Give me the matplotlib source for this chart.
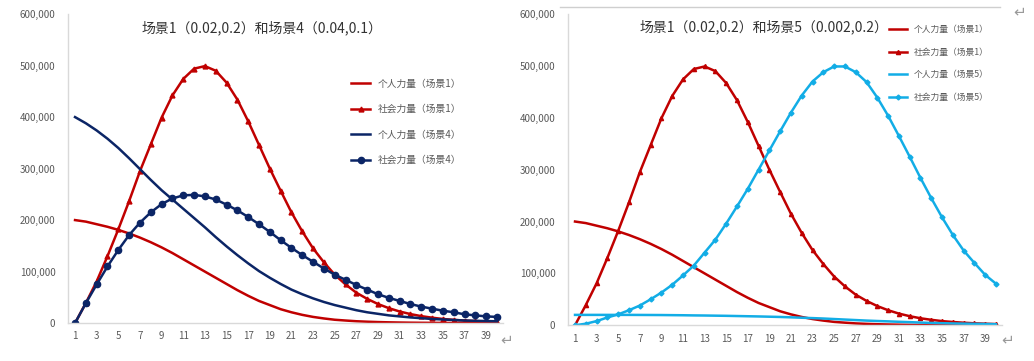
import numpy as np
import matplotlib

matplotlib.use("Agg")
import matplotlib.pyplot as plt
from matplotlib.ticker import FuncFormatter

plt.rcParams["font.family"] = ["Noto Sans CJK SC", "DejaVu Sans"]

# data, values in thousands
steps = list(range(1, 41))
s1_ind = [200, 197, 192, 187, 181, 174, 166, 157, 147, 136, 124, 112, 100, 88,
          76, 64, 53, 43, 35, 27, 21, 16, 12, 9, 6.5, 5, 3.6, 2.7, 2, 1.5, 1.1,
          0.8, 0.6, 0.45, 0.35, 0.25, 0.2, 0.15, 0.1, 0.08]
s1_soc = [0, 39, 81, 130, 182, 237, 295, 347, 399, 442, 474, 494, 499, 490,
          467, 434, 392, 346, 300, 257, 215, 178, 145, 118, 94, 75, 59, 47, 37,
          29, 22.5, 17.5, 13.5, 10.5, 8, 6.3, 4.9, 3.8, 3, 2.3]
s4_ind = [400, 388, 374, 358, 340, 320, 299, 278, 258, 240, 222, 204, 186, 167,
          149, 132, 116, 101, 88, 76, 65, 56, 48, 41, 35, 30, 25, 21, 18, 15,
          13, 11, 9.5, 8, 7, 6, 5, 4.5, 4, 3.5]
s4_soc = [0, 38.7, 75, 110, 142, 171, 195, 215, 231, 242, 248, 249, 246, 240,
          230, 219, 206, 192, 177, 161, 146, 132, 119, 106, 94, 84, 74, 65, 56,
          49, 43, 37, 32, 28, 24, 21, 17, 15, 13, 12]
s5_ind = [20, 20, 20, 20, 20, 20, 19.9, 19.8, 19.7, 19.5, 19.3, 19, 18.8, 18.5,
          18.2, 17.8, 17.4, 17, 16.5, 16, 15.3, 14.5, 13.8, 13, 12, 11, 10, 9,
          8.2, 7.5, 6.7, 6, 5.2, 4.5, 4, 3.5, 3.1, 2.8, 2.4, 2]
s5_soc = [0, 3, 8, 15, 21, 29, 38, 50, 63, 78, 96, 115, 140, 165, 196, 229,
          263, 300, 337, 374, 410, 443, 470, 488, 499, 499, 488, 469, 439, 404,
          365, 325, 284, 245, 208, 174, 144, 120, 97, 80]

titles = ["场景1（0.02,0.2）和场景4（0.04,0.1）",
          "场景1（0.02,0.2）和场景5（0.002,0.2）"]
labels_l = ["个人力量（场景1）", "社会力量（场景1）", "个人力量（场景4）", "社会力量（场景4）"]
labels_r = ["个人力量（场景1）", "社会力量（场景1）", "个人力量（场景5）", "社会力量（场景5）"]

RED, NAVY, CYAN = "#C00000", "#0B2566", "#12ADE6"
GRID = "#D9D9D9"
TXT = "#595959"

x = np.array(steps)
k = 1000.0

fig = plt.figure(figsize=(10.34, 3.61), dpi=100)
axl = fig.add_axes([68 / 1034, 0.105, (503 - 68) / 1034, 0.856])
axr = fig.add_axes([568 / 1034, 0.099, (1002 - 568) / 1034, 0.862])


def style(ax):
    ax.set_xlim(0.35, 40.55)
    ax.set_ylim(0, 600000)
    ax.set_yticks(np.arange(0, 600001, 100000))
    ax.set_xticks(steps[::2])
    ax.yaxis.set_major_formatter(FuncFormatter(lambda v, p: f"{int(v):,}"))
    for s in ("top", "right"):
        ax.spines[s].set_visible(False)
    for s in ("left", "bottom"):
        ax.spines[s].set_color(GRID)
        ax.spines[s].set_linewidth(1.0)
    ax.tick_params(length=0, labelsize=7, colors=TXT, pad=9)
    ax.tick_params(axis="x", pad=6)


lw = 1.8
axl.plot(x, np.array(s1_ind) * k, color=RED, lw=lw, label=labels_l[0])
axl.plot(x, np.array(s1_soc) * k, color=RED, lw=lw, marker="^", ms=3.5,
         label=labels_l[1])
axl.plot(x, np.array(s4_ind) * k, color=NAVY, lw=lw, label=labels_l[2])
axl.plot(x, np.array(s4_soc) * k, color=NAVY, lw=lw, marker="o", ms=4.5,
         label=labels_l[3])
style(axl)
axl.text(0.445, 0.955, titles[0], transform=axl.transAxes, ha="center",
         va="center", fontsize=10, color="#333333")
axl.legend(loc="upper left", bbox_to_anchor=(0.63, 0.82), frameon=False,
           fontsize=7, labelcolor=TXT, handlelength=2.0, handletextpad=0.8,
           labelspacing=1.6)

axr.plot(x, np.array(s1_ind) * k, color=RED, lw=lw, label=labels_r[0])
axr.plot(x, np.array(s1_soc) * k, color=RED, lw=lw, marker="^", ms=3,
         label=labels_r[1])
axr.plot(x, np.array(s5_ind) * k, color=CYAN, lw=lw, label=labels_r[2])
axr.plot(x, np.array(s5_soc) * k, color=CYAN, lw=lw, marker="D", ms=2.5,
         label=labels_r[3])
style(axr)
axr.text(0.452, 0.96, titles[1], transform=axr.transAxes, ha="center",
         va="center", fontsize=10, color="#333333")
axr.legend(loc="upper left", bbox_to_anchor=(0.722, 0.99), frameon=False,
           fontsize=6.3, labelcolor=TXT, handlelength=2.0, handletextpad=0.8,
           labelspacing=1.55)

# page decorations: border line above right chart and paragraph marks
fig.add_artist(plt.Line2D([560 / 1034, 1000 / 1034], [1 - 7 / 361, 1 - 7 / 361],
                          color="#CFCFCF", lw=1.0))
for px, py in ((1020, 12), (507, 340), (1008, 340)):
    fig.text(px / 1034, 1 - py / 361, "↵", ha="center", va="center",
             fontsize=11, color="#9A9A9A", family="DejaVu Sans")

fig.savefig("out.png", dpi=100, facecolor="white")
